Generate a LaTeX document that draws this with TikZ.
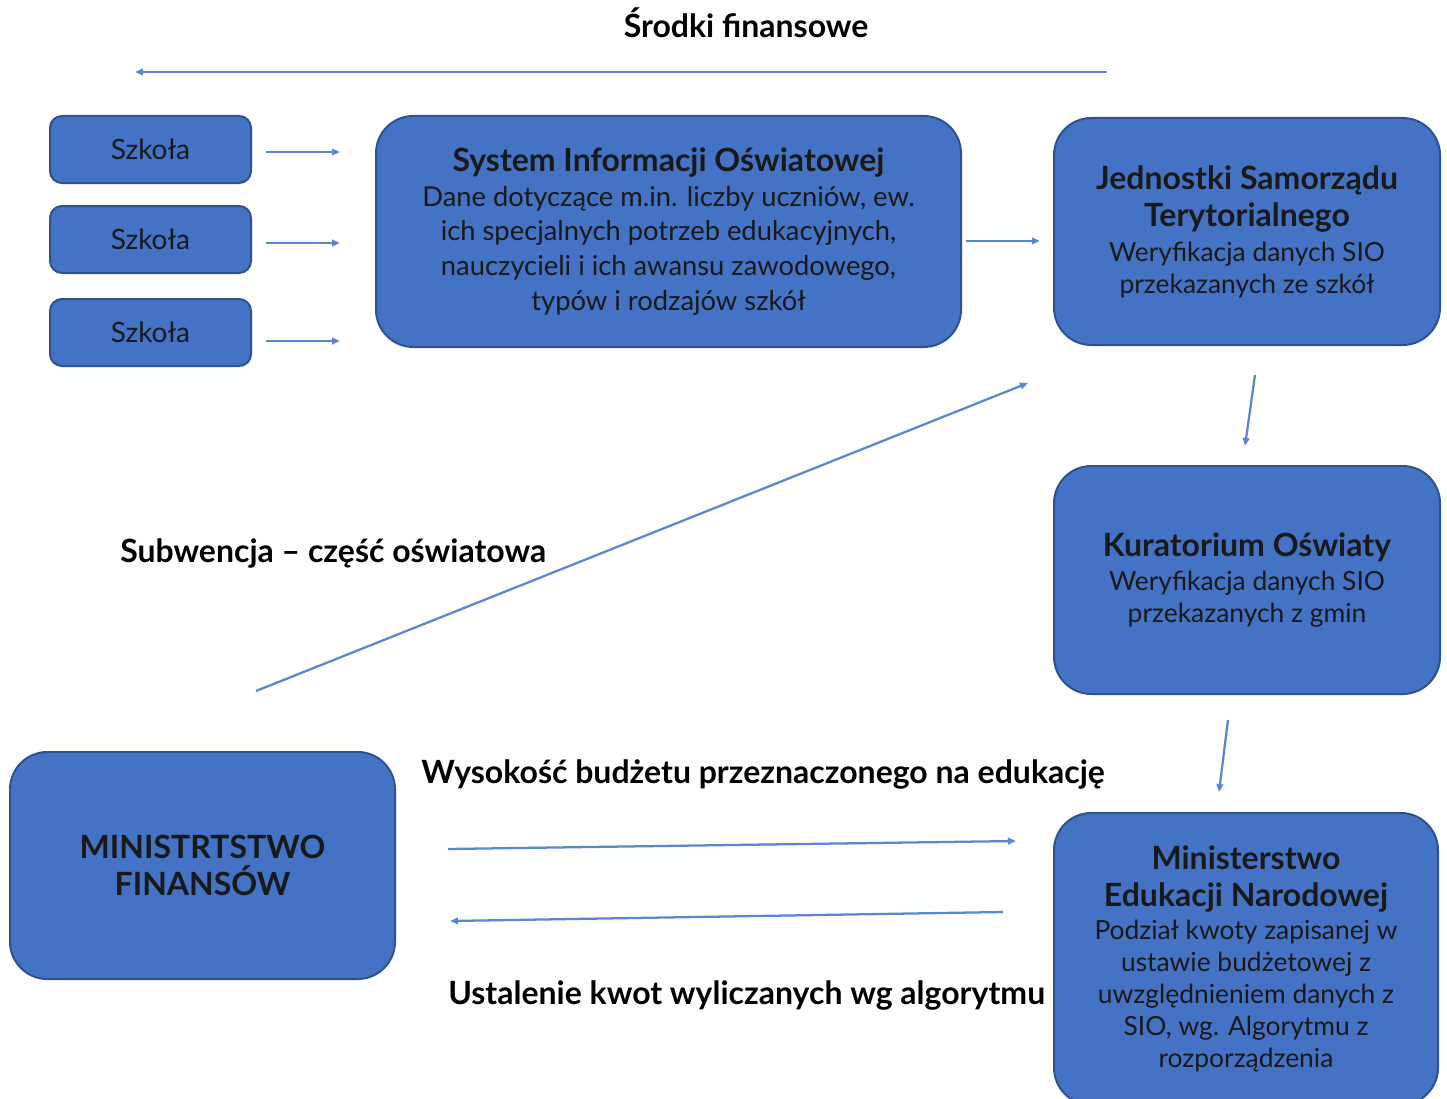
\documentclass[tikz,border=0pt]{standalone}
\usepackage{fontspec}
\setmainfont{Lato}
\usetikzlibrary{arrows.meta}
\definecolor{boxfill}{HTML}{4472C4}
\definecolor{boxline}{HTML}{2F528F}
\definecolor{arr}{HTML}{5B87D1}
\newcommand{\ttl}{\fontsize{24pt}{28.5pt}\selectfont\bfseries}
\begin{document}
\begin{tikzpicture}[x=0.75pt,y=-0.75pt,
  box/.style={draw=boxline, line width=1.5pt, fill=boxfill, rounded corners=28pt,
    align=center, inner sep=0pt, text=black!90,
    font=\fontsize{19.8pt}{24pt}\selectfont},
  small/.style={box, rounded corners=9pt, minimum width=150.75pt, minimum height=50.25pt,
    font=\fontsize{21pt}{24pt}\selectfont},
  lbl/.style={font=\fontsize{24pt}{28pt}\selectfont\bfseries, inner sep=0pt, text=black},
  conn/.style={draw=arr, line width=1.7pt, -{Triangle[length=6pt,width=5pt]}}]
\clip (0,0) rectangle (1447,1099);
\fill[white] (0,0) rectangle (1447,1099);

% boxes
\node[small] (s1) at (150.5,149.5) {Szkoła};
\node[small] (s2) at (150.5,239.5) {Szkoła};
\node[small] (s3) at (150.5,332.5) {Szkoła};
\node[box, minimum width=438.75pt, minimum height=173.25pt,
  font=\fontsize{20.5pt}{26pt}\selectfont] (sio) at (668.5,231.5)
  {{\ttl System Informacji Oświatowej}\\
   Dane dotyczące m.in. liczby uczniów, ew.\\
   ich specjalnych potrzeb edukacyjnych,\\
   nauczycieli i ich awansu zawodowego,\\
   typów i rodzajów szkół};
\node[box, minimum width=289.5pt, minimum height=170.25pt] (jst) at (1247,231.5)
  {{\ttl Jednostki Samorządu}\\[4pt]
   {\ttl Terytorialnego}\\[2pt]
   Weryfikacja danych SIO\\
   przekazanych ze szkół};
\node[box, minimum width=289.5pt, minimum height=171pt] (ko) at (1247,580)
  {{\ttl Kuratorium Oświaty}\\[2pt]
   Weryfikacja danych SIO\\
   przekazanych z gmin};
\node[box, minimum width=288pt, minimum height=219pt] (men) at (1246,959)
  {{\ttl Ministerstwo}\\[4pt]
   {\ttl Edukacji Narodowej}\\[1pt]
   Podział kwoty zapisanej w\\
   ustawie budżetowej z\\
   uwzględnieniem danych z\\
   SIO, wg. Algorytmu z\\
   rozporządzenia};
\node[box, minimum width=288.75pt, minimum height=170.25pt] (mf) at (202.5,865.5)
  {{\ttl MINISTRTSTWO}\\[4pt]
   {\ttl FINANSÓW}};

% labels
\node[lbl] (l1) at (746,23) {Środki finansowe};
\node[lbl, anchor=west] (l2) at (120,553) {Subwencja – część oświatowa};
\node[lbl, anchor=west] (l3) at (421,774) {Wysokość budżetu przeznaczonego na edukację};
\node[lbl, anchor=west] (l4) at (448,995) {Ustalenie kwot wyliczanych wg algorytmu};

% connector end points
\coordinate (a1s) at (1107,72); \coordinate (a1e) at (135,72);
\coordinate (b1s) at (266,152); \coordinate (b1e) at (340,152);
\coordinate (b2s) at (266,243); \coordinate (b2e) at (340,243);
\coordinate (b3s) at (266,341); \coordinate (b3e) at (340,341);
\coordinate (cs) at (966,241); \coordinate (ce) at (1040,241);
\coordinate (ds) at (1255,375); \coordinate (de) at (1245,446);
\coordinate (es) at (1228,720); \coordinate (ee) at (1219,792);
\coordinate (fs) at (256,691); \coordinate (fe) at (1028,383);
\coordinate (gs) at (448,849); \coordinate (ge) at (1016,841);
\coordinate (hs) at (1003,912); \coordinate (he) at (450,921);

\draw[conn] (a1s) -- (a1e);
\draw[conn] (b1s) -- (b1e);
\draw[conn] (b2s) -- (b2e);
\draw[conn] (b3s) -- (b3e);
\draw[conn] (cs) -- (ce);
\draw[conn] (ds) -- (de);
\draw[conn] (es) -- (ee);
\draw[conn] (fs) -- (fe);
\draw[conn] (gs) -- (ge);
\draw[conn] (hs) -- (he);
\end{tikzpicture}
\end{document}
